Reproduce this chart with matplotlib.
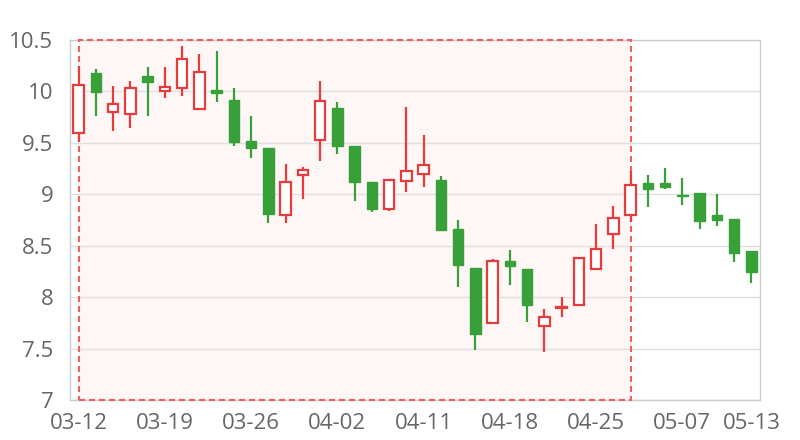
import matplotlib
matplotlib.use("Agg")
import matplotlib.pyplot as plt
from matplotlib.patches import Rectangle

dates = ["03-12", "03-13", "03-14", "03-15", "03-16",
         "03-19", "03-20", "03-21", "03-22", "03-23",
         "03-26", "03-27", "03-28", "03-29", "03-30",
         "04-02", "04-03", "04-04", "04-09", "04-10",
         "04-11", "04-12", "04-13", "04-16", "04-17",
         "04-18", "04-19", "04-20", "04-23", "04-24",
         "04-25", "04-26", "04-27", "05-02", "05-03",
         "05-07", "05-08", "05-09", "05-10", "05-13"]

opens = [9.60, 10.18, 9.80, 9.78, 10.15, 10.00, 10.03, 9.83, 10.01, 9.92,
         9.52, 9.45, 8.80, 9.19, 9.53, 9.84, 9.47, 9.12, 8.86, 9.13,
         9.20, 9.14, 8.66, 8.28, 7.75, 8.35, 8.27, 7.72, 7.89, 7.92,
         8.27, 8.61, 8.80, 9.11, 9.11, 8.99, 9.01, 8.80, 8.76, 8.45]
closes = [10.06, 9.99, 9.88, 10.03, 10.09, 10.04, 10.32, 10.19, 9.98, 9.51,
          9.45, 8.81, 9.12, 9.24, 9.91, 9.47, 9.12, 8.86, 9.14, 9.23,
          9.28, 8.65, 8.31, 7.64, 8.35, 8.30, 7.92, 7.81, 7.90, 8.38,
          8.47, 8.77, 9.09, 9.05, 9.07, 8.98, 8.74, 8.75, 8.43, 8.24]
lows = [9.51, 9.76, 9.62, 9.64, 9.76, 9.94, 9.96, 9.83, 9.90, 9.47,
        9.35, 8.72, 8.72, 8.95, 9.32, 9.39, 8.93, 8.83, 8.84, 9.02,
        9.07, 8.64, 8.10, 7.49, 7.75, 8.12, 7.76, 7.47, 7.81, 7.92,
        8.27, 8.47, 8.73, 8.88, 9.05, 8.90, 8.66, 8.69, 8.34, 8.14]
highs = [10.25, 10.22, 10.05, 10.10, 10.24, 10.24, 10.44, 10.36, 10.39, 10.03,
         9.76, 9.45, 9.29, 9.27, 10.10, 9.90, 9.47, 9.12, 9.15, 9.85,
         9.58, 9.18, 8.75, 8.28, 8.37, 8.46, 8.27, 7.88, 8.00, 8.38,
         8.71, 8.89, 9.23, 9.19, 9.26, 9.16, 9.01, 9.00, 8.76, 8.45]

y_ticks = [7, 7.5, 8, 8.5, 9, 9.5, 10, 10.5]
y_tick_labels = ["7", "7.5", "8", "8.5", "9", "9.5", "10", "10.5"]
x_tick_idx = [0, 5, 10, 15, 20, 25, 30, 35, 39]
mark_start, mark_end = "03-12", "04-27"

RED = "#e63c3c"
GREEN = "#38a038"
GRID = "#e0e0e0"
AXIS = "#cccccc"
TEXT = "#666666"

plt.rcParams['font.family'] = ['Open Sans', 'DejaVu Sans']

fig = plt.figure(figsize=(8, 4.4), dpi=100)
ax = fig.add_axes([70/800, 40/440, 690/800, 360/440])

n = len(dates)
xs = list(range(n))

ax.set_xlim(-0.5, n - 0.5)
ax.set_ylim(7, 10.5)

# mark area
ms, me = dates.index(mark_start), dates.index(mark_end)
ax.add_patch(Rectangle((ms, 7), me - ms, 3.5, facecolor="#fff6f6",
                       edgecolor="none", zorder=0))

for y in y_ticks:
    ax.axhline(y, color=GRID, linewidth=1, zorder=1)

ax.add_patch(Rectangle((ms, 7), me - ms, 3.5, facecolor="none",
                       edgecolor="#f06060", linewidth=1.5,
                       linestyle=(0, (2.9, 1.9)), zorder=2, clip_on=False))

width = 0.62
for i in xs:
    o, c, lo, hi = opens[i], closes[i], lows[i], highs[i]
    up = c >= o
    col = RED if up else GREEN
    ax.vlines(i, lo, hi, color=col, linewidth=1.6, zorder=3)
    bottom = min(o, c)
    h = max(abs(c - o), 0.008)
    if up:
        ax.bar(i, h, bottom=bottom, width=width, facecolor="white",
               edgecolor=col, linewidth=1.6, zorder=4)
    else:
        ax.bar(i, h, bottom=bottom, width=width, facecolor=col,
               edgecolor=col, linewidth=1.0, zorder=4)

ax.set_yticks(y_ticks)
ax.set_yticklabels(y_tick_labels)
ax.set_xticks(x_tick_idx)
ax.set_xticklabels([dates[i] for i in x_tick_idx])
ax.tick_params(axis='both', length=0, labelsize=16, labelcolor=TEXT)
ax.tick_params(axis='y', pad=12)
ax.tick_params(axis='x', pad=9)

for s in ax.spines.values():
    s.set_color(AXIS)
    s.set_linewidth(1)
    s.set_zorder(1.5)

fig.savefig("out.png", dpi=100)
